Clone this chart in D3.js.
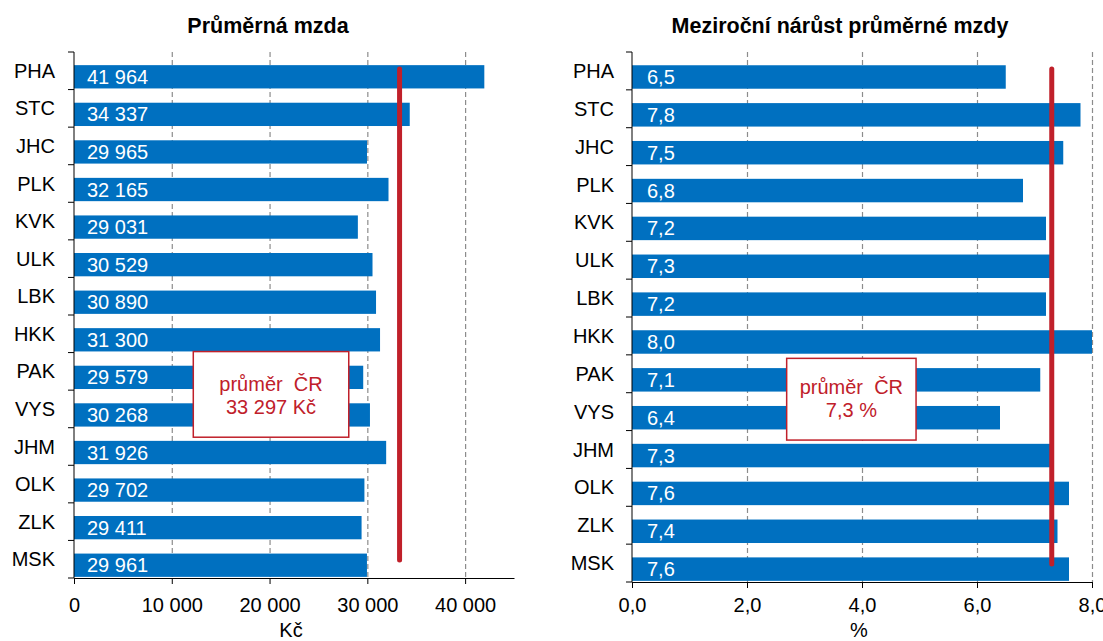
<!DOCTYPE html>
<html>
<head>
<meta charset="utf-8">
<script src="https://cdn.jsdelivr.net/npm/d3@7"></script>
<style>
  body { margin: 0; background: #fff; }
  svg { display: block; font-family: "Liberation Sans", Arial, sans-serif; }
</style>
</head>
<body>
<script>
// data
var regions = ["PHA", "STC", "JHC", "PLK", "KVK", "ULK", "LBK", "HKK", "PAK", "VYS", "JHM", "OLK", "ZLK", "MSK"];
var wages = [41964, 34337, 29965, 32165, 29031, 30529, 30890, 31300, 29579, 30268, 31926, 29702, 29411, 29961];
var growth = [6.5, 7.8, 7.5, 6.8, 7.2, 7.3, 7.2, 8.0, 7.1, 6.4, 7.3, 7.6, 7.4, 7.6];
var wageTicks = [0, 10000, 20000, 30000, 40000];
var growthTicks = [0, 2, 4, 6, 8];
var wageAvg = 33297;
var growthAvg = 7.3;

var cz = d3.formatLocale({ decimal: ",", thousands: "\u00a0", grouping: [3], currency: ["", " Kč"] });
var fmtInt = cz.format(",d");
var fmtDec = cz.format(".1f");

var blue = "#0070C0", red = "#C0202A";

var svg = d3.select("body").append("svg").attr("width", 1103).attr("height", 641);

function drawPanel(p) {
  var g = svg.append("g");
  var x = d3.scaleLinear().domain(p.domain).range([p.left, p.right]);
  var y = d3.scaleBand().domain(regions).range([p.top, p.bottom]);
  var bw = y.bandwidth();

  // title
  g.append("text")
    .attr("x", p.titleX).attr("y", 33)
    .attr("text-anchor", "middle")
    .attr("font-size", 21.5).attr("font-weight", "bold")
    .text(p.title);

  // dashed gridlines
  g.selectAll(".grid").data(p.ticks.filter(function (d) { return d > 0; }))
    .enter().append("line")
    .attr("x1", function (d) { return x(d) + 0.5; }).attr("x2", function (d) { return x(d) + 0.5; })
    .attr("y1", p.top).attr("y2", p.bottom)
    .attr("stroke", "#8c8c8c").attr("stroke-width", 1.2).attr("stroke-dasharray", "5,3");

  // bars
  g.selectAll(".bar").data(p.values)
    .enter().append("rect")
    .attr("x", x(0))
    .attr("y", function (d, i) { return y(regions[i]) + bw * 0.35; })
    .attr("width", function (d) { return x(d) - x(0); })
    .attr("height", bw * 0.62)
    .attr("fill", blue);

  // value labels
  g.selectAll(".val").data(p.values)
    .enter().append("text")
    .attr("x", x(0) + p.valPad)
    .attr("y", function (d, i) { return y(regions[i]) + bw * 0.66 + 7; })
    .attr("fill", "#fff").attr("font-size", 20)
    .text(p.fmt);

  // average line
  g.append("line")
    .attr("x1", x(p.avg)).attr("x2", x(p.avg))
    .attr("y1", p.top + 17).attr("y2", p.bottom - 18)
    .attr("stroke", red).attr("stroke-width", 5).attr("stroke-linecap", "round");

  // annotation box
  var bx0 = x(p.box[0]), bx1 = x(p.box[1]);
  var by0 = y("PAK") + p.box[2], by1 = y("JHM") + p.box[3];
  g.append("rect")
    .attr("x", bx0).attr("y", by0)
    .attr("width", bx1 - bx0).attr("height", by1 - by0)
    .attr("fill", "#fff").attr("stroke", red).attr("stroke-width", 1.5);
  g.selectAll(".note").data(p.note)
    .enter().append("text")
    .attr("x", (bx0 + bx1) / 2)
    .attr("y", function (d, i) { return p.noteY + i * 23; })
    .attr("text-anchor", "middle")
    .attr("fill", red).attr("font-size", 20)
    .attr("xml:space", "preserve")
    .text(function (d) { return d; });

  // y axis
  g.append("line")
    .attr("x1", x(0)).attr("x2", x(0)).attr("y1", p.top).attr("y2", p.bottom)
    .attr("stroke", "#000");
  var tickYs = regions.map(function (r) { return y(r); }).concat([p.bottom]);
  g.selectAll(".ytick").data(tickYs)
    .enter().append("line")
    .attr("x1", x(0) - 6).attr("x2", x(0))
    .attr("y1", function (d) { return d; }).attr("y2", function (d) { return d; })
    .attr("stroke", "#000");
  g.selectAll(".cat").data(regions)
    .enter().append("text")
    .attr("x", p.catX)
    .attr("y", function (d) { return y(d) + bw / 2 + 7; })
    .attr("text-anchor", "end").attr("font-size", 20)
    .text(function (d) { return d; });

  // x axis
  var ax = g.append("g")
    .attr("transform", "translate(0," + p.bottom + ")")
    .call(d3.axisBottom(x).tickValues(p.ticks).tickSize(6).tickSizeOuter(0).tickPadding(p.tickPad).tickFormat(p.tickFmt));
  ax.select(".domain").attr("stroke", "#000");
  ax.selectAll(".tick line").attr("stroke", "#000");
  ax.selectAll(".tick text").attr("font-size", 20).attr("font-family", "Liberation Sans, Arial, sans-serif").attr("fill", "#000");

  g.append("text")
    .attr("x", (p.left + p.right) / 2 - 3).attr("y", 637)
    .attr("text-anchor", "middle").attr("font-size", 20)
    .text(p.unit);
}

drawPanel({
  title: "Průměrná mzda", titleX: 268,
  values: wages, domain: [0, 45000], ticks: wageTicks, avg: wageAvg,
  left: 74, right: 514, top: 52, bottom: 578,
  fmt: fmtInt, tickFmt: fmtInt, valPad: 13, catX: 55, tickPad: 14,
  box: [12200, 28100, -1, 9.5], noteY: 391,
  note: ["průměr  ČR", cz.format(",d")(wageAvg) + " Kč"], unit: "Kč"
});

drawPanel({
  title: "Meziroční nárůst průměrné mzdy", titleX: 840,
  values: growth, domain: [0, 8], ticks: growthTicks, avg: growthAvg,
  left: 632, right: 1092, top: 52, bottom: 582,
  fmt: fmtDec, tickFmt: fmtDec, valPad: 15, catX: 614, tickPad: 10,
  box: [2.69, 4.94, 3.5, 9.5], noteY: 394,
  note: ["průměr  ČR", fmtDec(growthAvg) + " %"], unit: "%"
});
</script>
</body>
</html>
